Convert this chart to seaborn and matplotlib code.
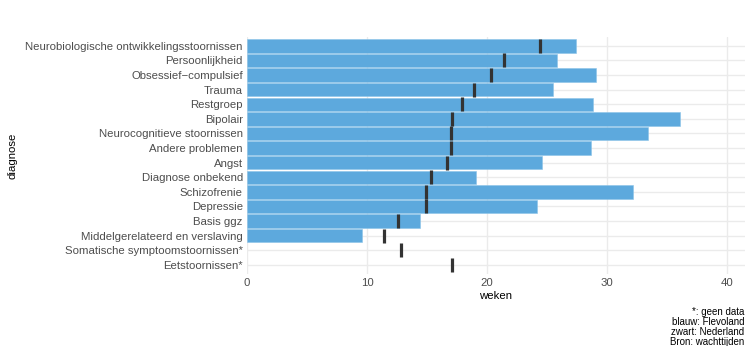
import numpy as np
import pandas as pd
import matplotlib
matplotlib.use("Agg")
import matplotlib.pyplot as plt
import seaborn as sns

# Data
diagnoses = [
    "Neurobiologische ontwikkelingsstoornissen",
    "Persoonlijkheid",
    "Obsessief\u2212compulsief",
    "Trauma",
    "Restgroep",
    "Bipolair",
    "Neurocognitieve stoornissen",
    "Andere problemen",
    "Angst",
    "Diagnose onbekend",
    "Schizofrenie",
    "Depressie",
    "Basis ggz",
    "Middelgerelateerd en verslaving",
    "Somatische symptoomstoornissen*",
    "Eetstoornissen*",
]
flevoland = [27.4, 25.8, 29.1, 25.5, 28.8, 36.1, 33.4, 28.7, 24.6, 19.1,
             32.2, 24.2, 14.4, 9.6, np.nan, np.nan]
nederland = [24.4, 21.4, 20.3, 18.9, 17.9, 17.1, 17.0, 17.0, 16.7, 15.3,
             14.9, 14.9, 12.6, 11.4, 12.8, 17.1]

df = pd.DataFrame({"diagnose": diagnoses, "flevoland": flevoland, "nederland": nederland})

sns.set_style("whitegrid")
plt.rcParams["font.family"] = ["Liberation Sans", "DejaVu Sans"]

fig = plt.figure(figsize=(7.45, 3.46), dpi=100)
ax = fig.add_axes([0.3315, 0.209, 0.6685, 0.684])

sns.barplot(data=df, x="flevoland", y="diagnose", order=diagnoses, color="#5DA9DD",
            saturation=1, width=0.92, edgecolor="#8CC3E8", linewidth=0.4, ax=ax, zorder=2)
# Nederland as short vertical marks
sns.scatterplot(data=df, x="nederland", y="diagnose", marker="|", s=105,
                linewidth=2.3, color="#333333", ax=ax, zorder=3)

ax.set_xlim(0, 41.5)
ax.set_ylim(len(diagnoses) - 0.4, -0.6)
ax.set_xticks([0, 10, 20, 30, 40])
ax.grid(True, color="#EBEBEB", linewidth=1.0, zorder=0)
ax.set_axisbelow(True)
for s in ax.spines.values():
    s.set_visible(False)
ax.tick_params(axis="both", length=0, labelsize=8.2, labelcolor="#4D4D4D", pad=3)
ax.set_xlabel("weken", fontsize=8.2, color="black", labelpad=2)
ax.set_ylabel("diagnose", fontsize=8.2, color="black", labelpad=6)

fig.text(0.999, 0.112, "*: geen data\nblauw: Flevoland\nzwart: Nederland\nBron: wachttijden",
         ha="right", va="top", fontsize=7, linespacing=1.0, color="black")

fig.savefig("out.png", dpi=100)
